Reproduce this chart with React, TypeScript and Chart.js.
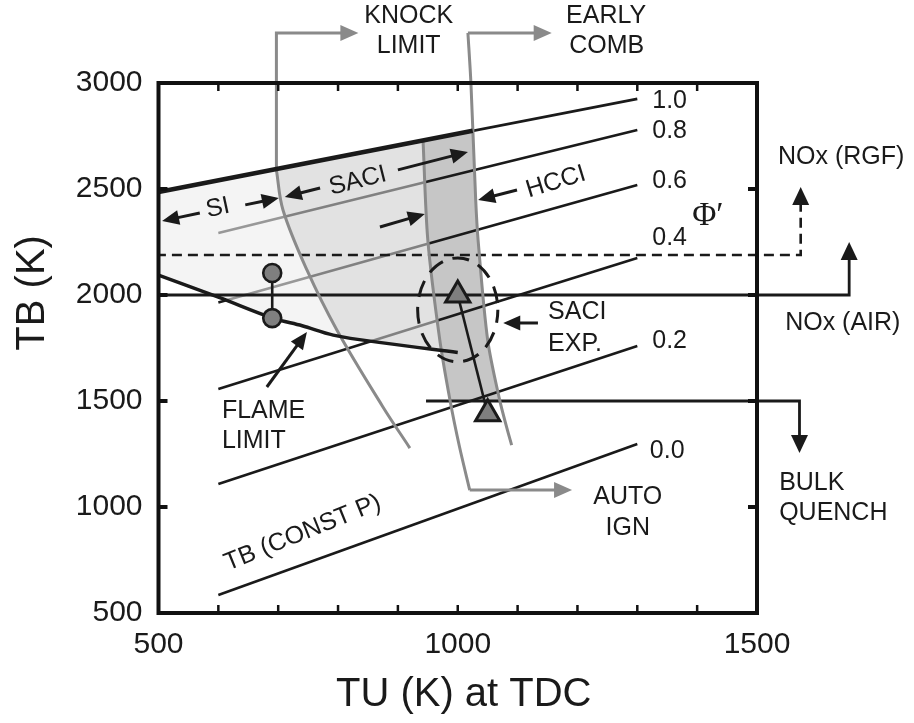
import { useEffect, useRef } from "react";
import { Chart, registerables } from "chart.js";

Chart.register(...registerables);

type Pt = [number, number];

const FONT = "'Liberation Sans', Arial, Helvetica, sans-serif";
const SERIF = "'Liberation Serif', 'DejaVu Serif', 'Times New Roman', serif";
const INK = "#1a1a1a";
const GREY_LINE = "#8a8a8a";

// ---- axes ----
const xTickValues = [500, 1000, 1500];
const yTickValues = [500, 1000, 1500, 2000, 2500, 3000];
const xMinorTicks = [600, 700, 800, 900, 1000, 1100, 1200, 1300, 1400];
const yMinorTicks = [1000, 1500, 2000, 2500];

// ---- constant-pressure burned gas temperature lines, TB vs TU, per Φ′ ----
const phiNames = ["0.0", "0.2", "0.4", "0.6", "0.8", "1.0"];
const phi00: Pt[] = [[600, 585], [1300, 1297]];
const phi02: Pt[] = [[600, 1109], [1300, 1759]];
const phi04: Pt[] = [[600, 1557], [1300, 2175]];
const phi06: Pt[] = [[600, 1965], [1300, 2519]];
const phi08: Pt[] = [[600, 2292], [1300, 2778]];
const phi10: Pt[] = [[500, 2486], [1300, 2925]];
const phiLines = [phi00, phi02, phi04, phi06, phi08, phi10];

// ---- combustion-mode boundaries ----
const combustionTop: Pt[] = [[500, 2486], [1025, 2775]];
const flameLimit: Pt[] = [[500, 2094], [600, 1990], [691, 1891], [740, 1855], [792, 1811], [875, 1774], [1000, 1729]];
const knockBracket: Pt[] = [[697, 2590], [697, 3236], [808, 3236]];
const knockLimit: Pt[] = [[697, 2590], [708, 2401], [748, 2118], [798, 1835], [875, 1472], [920, 1278]];
const autoIgnLimit: Pt[] = [[942, 2728], [950, 2259], [970, 1788], [987, 1505], [1003, 1283], [1020, 1080]];
const autoIgnArrow: Pt[] = [[1020, 1080], [1165, 1080]];
const earlyCombLimit: Pt[] = [[1017, 3236], [1022, 3000], [1030, 2448], [1034, 2259], [1050, 1788], [1070, 1505], [1082, 1373], [1090, 1292]];
const earlyCombBracket: Pt[] = [[1017, 3236], [1131, 3236]];

// ---- NOx and bulk quench thresholds (listed from the arrow end back to the start) ----
const noxAir: Pt[] = [[1654, 2170], [1654, 2000], [500, 2000]];
const noxRgf: Pt[] = [[1573, 2440], [1573, 2189], [500, 2189]];
const bulkQuench: Pt[] = [[1571, 1340], [1571, 1500], [947, 1500]];

// ---- operating points ----
const siPoints: Pt[] = [[690, 2104], [690, 1891]];
const saciPoints: Pt[] = [[1050, 1440], [1000, 2000]];
const saciExpCenter: Pt = [1000, 1930];
const saciExpHalfSpan: Pt = [67, 245];

// ---- shaded mode regions ----
const siRegion: Pt[] = [[500, 2486], [500, 2094], [600, 1990], [691, 1891], [740, 1855], [792, 1811], [804, 1806], [798, 1835], [748, 2118], [708, 2401], [697, 2590], [697, 2594]];
const saciRegion: Pt[] = [[697, 2594], [697, 2590], [708, 2401], [748, 2118], [798, 1835], [804, 1806], [875, 1774], [974, 1738], [970, 1788], [950, 2259], [942, 2728]];
const hcciRegion: Pt[] = [[942, 2728], [950, 2259], [970, 1788], [987, 1505], [988, 1500], [1070, 1500], [1050, 1788], [1034, 2259], [1030, 2448], [1025, 2775]];

// ---- annotation placement (TU, TB) ----
type Note = { text: string; at: Pt; align?: CanvasTextAlign; angle?: number; size?: number; serif?: boolean };
const notes: Note[] = [
  { text: "KNOCK", at: [918, 3316] },
  { text: "LIMIT", at: [918, 3175] },
  { text: "EARLY", at: [1248, 3316] },
  { text: "COMB", at: [1249, 3175] },
  { text: "NOx (RGF)", at: [1535, 2651], align: "left" },
  { text: "NOx (AIR)", at: [1547, 1868], align: "left" },
  { text: "BULK", at: [1537, 1113], align: "left" },
  { text: "QUENCH", at: [1537, 972], align: "left" },
  { text: "SACI", at: [1151, 1920], align: "left" },
  { text: "EXP.", at: [1151, 1769], align: "left" },
  { text: "AUTO", at: [1284, 1047] },
  { text: "IGN", at: [1284, 901] },
  { text: "FLAME", at: [606, 1453], align: "left" },
  { text: "LIMIT", at: [606, 1311], align: "left" },
  { text: "TB (CONST P)", at: [741, 877], angle: -22 },
  { text: "SI", at: [599, 2410], angle: -12 },
  { text: "SACI", at: [833, 2538], angle: -14 },
  { text: "HCCI", at: [1164, 2533], angle: -17 },
  { text: "Φ′", at: [1418, 2372], size: 33, serif: true },
];
const phiLabelAt: Pt[] = [[1321, 1264], [1325, 1783], [1325, 2267], [1325, 2535], [1325, 2774], [1325, 2915]];

const pointers: { from: Pt; to: Pt }[] = [
  { from: [569, 2387], to: [506, 2349] },
  { from: [645, 2425], to: [701, 2458] },
  { from: [770, 2505], to: [711, 2462] },
  { from: [900, 2590], to: [1017, 2675] },
  { from: [870, 2321], to: [945, 2382] },
  { from: [1099, 2495], to: [1034, 2448] },
  { from: [1134, 1868], to: [1076, 1868] },
  { from: [681, 1566], to: [748, 1825] },
];
// arrow heads at the ends of drawn leader lines
const leaderHeads: { from: Pt; to: Pt; grey: boolean }[] = [
  { from: [800, 3236], to: [834, 3236], grey: true },
  { from: [1120, 3236], to: [1157, 3236], grey: true },
  { from: [1155, 1080], to: [1191, 1080], grey: true },
  { from: [1654, 2150], to: [1654, 2250], grey: false },
  { from: [1573, 2420], to: [1573, 2509], grey: false },
  { from: [1571, 1360], to: [1571, 1255], grey: false },
];

const toXY = (pts: Pt[]) => pts.map(([x, y]) => ({ x, y }));

function lineSet(label: string, pts: Pt[], color: string, width: number, order: number, extra: any = {}) {
  return {
    type: "scatter" as const,
    label,
    data: toXY(pts),
    showLine: true,
    borderColor: color,
    borderWidth: width,
    pointRadius: 0,
    pointHoverRadius: 0,
    fill: false,
    tension: 0,
    order,
    clip: false as any,
    borderCapStyle: "butt",
    borderJoinStyle: "miter",
    ...extra,
  };
}

function pix(chart: any, p: Pt): [number, number] {
  return [chart.scales.x.getPixelForValue(p[0]), chart.scales.y.getPixelForValue(p[1])];
}

function fillPoly(chart: any, pts: Pt[], color: string) {
  const ctx: CanvasRenderingContext2D = chart.ctx;
  ctx.save();
  ctx.beginPath();
  pts.forEach((p, i) => {
    const [x, y] = pix(chart, p);
    if (i === 0) ctx.moveTo(x, y);
    else ctx.lineTo(x, y);
  });
  ctx.closePath();
  ctx.fillStyle = color;
  ctx.fill();
  ctx.restore();
}

function head(ctx: CanvasRenderingContext2D, x0: number, y0: number, x1: number, y1: number, color: string, len: number, half: number, shaft: number) {
  const dx = x1 - x0;
  const dy = y1 - y0;
  const L = Math.hypot(dx, dy) || 1;
  const ux = dx / L;
  const uy = dy / L;
  const bx = x1 - ux * len;
  const by = y1 - uy * len;
  if (shaft > 0) {
    ctx.beginPath();
    ctx.moveTo(x0, y0);
    ctx.lineTo(bx + ux * 2, by + uy * 2);
    ctx.strokeStyle = color;
    ctx.lineWidth = shaft;
    ctx.lineCap = "butt";
    ctx.stroke();
  }
  ctx.beginPath();
  ctx.moveTo(x1, y1);
  ctx.lineTo(bx - uy * half, by + ux * half);
  ctx.lineTo(bx + uy * half, by - ux * half);
  ctx.closePath();
  ctx.fillStyle = color;
  ctx.fill();
}

const regionsPlugin = {
  id: "modeRegions",
  beforeDraw(chart: any) {
    chart.$overlayDone = false;
  },
  beforeDatasetsDraw(chart: any) {
    fillPoly(chart, hcciRegion, "#c6c6c6");
  },
  beforeDatasetDraw(chart: any, args: any) {
    if (!chart.$overlayDone && args.meta.order < 100) {
      chart.$overlayDone = true;
      fillPoly(chart, siRegion, "rgba(236,236,236,0.6)");
      fillPoly(chart, saciRegion, "rgba(205,205,205,0.58)");
    }
  },
  afterDatasetsDraw(chart: any) {
    const ctx: CanvasRenderingContext2D = chart.ctx;
    const { left, right, top, bottom } = chart.chartArea;
    const xs = chart.scales.x;
    const ys = chart.scales.y;
    ctx.save();

    // SACI experiment envelope
    const [cx, cy] = pix(chart, saciExpCenter);
    const rx = Math.abs(xs.getPixelForValue(saciExpCenter[0] + saciExpHalfSpan[0]) - cx);
    const ry = Math.abs(ys.getPixelForValue(saciExpCenter[1] + saciExpHalfSpan[1]) - cy);
    ctx.beginPath();
    ctx.ellipse(cx, cy, rx, ry, 0, 0, Math.PI * 2);
    ctx.setLineDash([17, 10]);
    ctx.lineDashOffset = 4;
    ctx.strokeStyle = INK;
    ctx.lineWidth = 3;
    ctx.stroke();
    ctx.setLineDash([]);

    // pointer arrows
    pointers.forEach(({ from, to }) => {
      const [x0, y0] = pix(chart, from);
      const [x1, y1] = pix(chart, to);
      head(ctx, x0, y0, x1, y1, INK, 17, 7.5, 3);
    });
    leaderHeads.forEach(({ from, to, grey }) => {
      const [x0, y0] = pix(chart, from);
      const [x1, y1] = pix(chart, to);
      head(ctx, x0, y0, x1, y1, grey ? GREY_LINE : INK, 18, grey ? 8 : 8.5, 0);
    });

    // text
    ctx.fillStyle = INK;
    ctx.textBaseline = "middle";
    const drawNote = (n: Note) => {
      const [x, y] = pix(chart, n.at);
      ctx.save();
      ctx.translate(x, y);
      if (n.angle) ctx.rotate((n.angle * Math.PI) / 180);
      ctx.font = `${n.size ?? 25}px ${n.serif ? SERIF : FONT}`;
      ctx.textAlign = n.align ?? "center";
      ctx.fillText(n.text, 0, 0);
      ctx.restore();
    };
    notes.forEach(drawNote);
    phiNames.forEach((t, i) => drawNote({ text: t, at: phiLabelAt[i], align: "left" }));

    // axis titles
    ctx.font = `40px ${FONT}`;
    ctx.textAlign = "center";
    ctx.fillText("TU (K) at TDC", xs.getPixelForValue(1010), bottom + 82);
    ctx.save();
    ctx.translate(left - 126, ys.getPixelForValue(2010));
    ctx.rotate(-Math.PI / 2);
    ctx.fillText("TB (K)", 0, 0);
    ctx.restore();

    // frame with inward ticks
    ctx.strokeStyle = "#111";
    ctx.lineWidth = 4;
    ctx.strokeRect(left, top, right - left, bottom - top);
    ctx.lineWidth = 2.5;
    ctx.beginPath();
    xMinorTicks.forEach((v) => {
      const x = xs.getPixelForValue(v);
      ctx.moveTo(x, top);
      ctx.lineTo(x, top + 8);
      ctx.moveTo(x, bottom);
      ctx.lineTo(x, bottom - 8);
    });
    ctx.stroke();
    ctx.lineWidth = 4;
    ctx.beginPath();
    yMinorTicks.forEach((v) => {
      const y = ys.getPixelForValue(v);
      ctx.moveTo(left, y);
      ctx.lineTo(left + 9, y);
      ctx.moveTo(right, y);
      ctx.lineTo(right - 9, y);
    });
    ctx.stroke();
    ctx.restore();
  },
};

export default function App() {
  const ref = useRef<HTMLCanvasElement>(null);

  useEffect(() => {
    const canvas = ref.current;
    if (!canvas) return;

    const under = phiLines.map((pts, i) => lineSet(`Φ′ = ${phiNames[i]}`, pts, INK, 2.6, 100));

    const datasets: any[] = [
      ...under,
      lineSet("NOx (AIR)", noxAir, INK, 2.8, 50),
      lineSet("NOx (RGF)", noxRgf, INK, 2.6, 50, { borderDash: [10, 6] }),
      lineSet("BULK QUENCH", bulkQuench, INK, 2.8, 50),
      lineSet("KNOCK bracket", knockBracket, GREY_LINE, 3, 48),
      lineSet("KNOCK LIMIT", knockLimit, GREY_LINE, 3, 48, { tension: 0.35 }),
      lineSet("AUTO IGN", autoIgnLimit, GREY_LINE, 3, 48, { tension: 0.3 }),
      lineSet("AUTO IGN arrow", autoIgnArrow, GREY_LINE, 3, 48),
      lineSet("EARLY COMB", earlyCombLimit, GREY_LINE, 3, 48, { tension: 0.3 }),
      lineSet("EARLY COMB bracket", earlyCombBracket, GREY_LINE, 3, 48),
      lineSet("FLAME LIMIT", flameLimit, INK, 3.4, 40, { tension: 0.35 }),
      lineSet("combustion limit", combustionTop, INK, 4.6, 40),
      lineSet("SACI path", saciPoints, INK, 2.6, 30),
      {
        type: "scatter",
        label: "SI points",
        data: toXY(siPoints),
        showLine: true,
        borderColor: INK,
        borderWidth: 2.6,
        pointRadius: 9,
        pointStyle: "circle",
        pointBackgroundColor: "#7f7f7f",
        pointBorderColor: INK,
        pointBorderWidth: 2.6,
        order: 10,
        clip: false,
      },
      {
        type: "scatter",
        label: "SACI points",
        data: toXY(saciPoints),
        showLine: false,
        pointRadius: 14,
        pointStyle: "triangle",
        pointBackgroundColor: "#7f7f7f",
        pointBorderColor: INK,
        pointBorderWidth: 3,
        order: 10,
        clip: false,
      },
    ];

    const tickFont = { family: FONT, size: 30 };

    const chart = new Chart(canvas, {
      type: "scatter",
      data: { datasets },
      options: {
        responsive: false,
        animation: false,
        devicePixelRatio: 1,
        events: [],
        layout: { padding: { top: 83, right: 157, left: 0, bottom: 0 } },
        plugins: {
          legend: { display: false },
          tooltip: { enabled: false },
          title: { display: false },
        },
        scales: {
          x: {
            type: "linear",
            min: 500,
            max: 1500,
            afterFit: (s: any) => {
              s.height = 110;
            },
            afterBuildTicks: (s: any) => {
              s.ticks = xTickValues.map((value) => ({ value }));
            },
            grid: { display: false, drawTicks: false },
            border: { display: false },
            ticks: {
              padding: 14,
              font: tickFont,
              color: INK,
              maxRotation: 0,
              autoSkip: false,
              callback: (v: any) => String(v),
            },
          },
          y: {
            type: "linear",
            min: 500,
            max: 3000,
            afterFit: (s: any) => {
              s.width = 158.5;
            },
            afterBuildTicks: (s: any) => {
              s.ticks = yTickValues.map((value) => ({ value }));
            },
            grid: { display: false, drawTicks: false },
            border: { display: false },
            ticks: {
              padding: 16,
              font: tickFont,
              color: INK,
              autoSkip: false,
              callback: (v: any) => String(v),
            },
          },
        },
      } as any,
      plugins: [regionsPlugin],
    });

    return () => chart.destroy();
  }, []);

  return (
    <div style={{ position: "absolute", left: 0, top: 0, width: 914, height: 723, background: "#fff" }}>
      <canvas ref={ref} width={914} height={723} style={{ display: "block" }} />
    </div>
  );
}
